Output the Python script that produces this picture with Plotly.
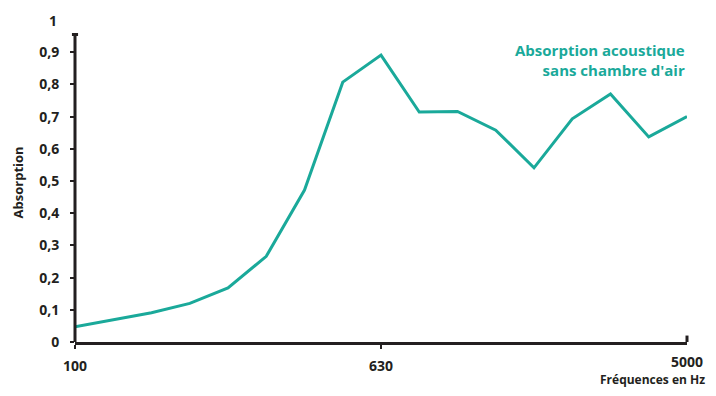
import plotly.graph_objects as go

# Bandes de tiers d'octave (positions sur l'axe) et absorption mesurée
frequences = ["100", "125", "160", "200", "250", "315", "400", "500", "630",
              "800", "1000", "1250", "1600", "2000", "2500", "3150", "5000"]
absorption = [0.047, 0.068, 0.091, 0.12, 0.168, 0.266, 0.472, 0.807, 0.891,
              0.714, 0.716, 0.658, 0.541, 0.693, 0.77, 0.637, 0.70]

y_ticks = [0, 0.1, 0.2, 0.3, 0.4, 0.5, 0.6, 0.7, 0.8, 0.9]
y_labels = ["0", "0,1", "0,2", "0,3", "0,4", "0,5", "0,6", "0,7", "0,8", "0,9"]
x_ticks = ["100", "630"]

teal = "#1aa99a"
dark = "#231f20"
fnt = "Open Sans"

fig = go.Figure()
fig.add_trace(
    go.Scatter(
        x=frequences,
        y=absorption,
        mode="lines",
        line=dict(color=teal, width=3),
        showlegend=False,
        hoverinfo="skip"
    )
)

# la page a une marge de 8 px : figure réduite pour tenir dans la fenêtre
fig.update_layout(
    width=700,
    height=380,
    margin=dict(l=67, r=21, t=12, b=46),
    paper_bgcolor="white",
    plot_bgcolor="white",
    font=dict(family=fnt, size=14, color=dark),
    xaxis=dict(
        type="category",
        range=[0, len(frequences) - 1],
        tickvals=x_ticks,
        ticktext=x_ticks,
        ticks="outside",
        ticklen=4,
        tickwidth=2,
        tickcolor=dark,
        ticklabelstandoff=5,
        showline=True,
        linecolor=dark,
        linewidth=3,
        showgrid=False,
        zeroline=False,
        tickfont=dict(family=fnt, size=14, color=dark, weight="bold")
    ),
    yaxis=dict(
        range=[0, 1],
        tickvals=y_ticks,
        ticktext=y_labels,
        ticks="outside",
        ticklen=4,
        tickwidth=2,
        tickcolor=dark,
        ticklabelstandoff=8,
        showline=False,
        showgrid=False,
        zeroline=False,
        tickfont=dict(family=fnt, size=14, color=dark, weight="bold")
    )
)

# axe vertical qui s'arrête un peu sous 1
fig.add_shape(type="line", xref="paper", yref="y", x0=0, x1=0, y0=0, y1=0.955,
              line=dict(color=dark, width=3))
fig.add_shape(type="line", xref="paper", yref="y", x0=-0.005, x1=0.005, y0=0.955, y1=0.955,
              line=dict(color=dark, width=3))
# petit retour en bout d'axe horizontal
fig.add_shape(type="line", xref="paper", yref="y", x0=1, x1=1, y0=0, y1=0.02,
              line=dict(color=dark, width=3))

fig.add_annotation(
    text="1", xref="paper", yref="y", x=-0.026, y=1,
    xanchor="right", yanchor="middle", showarrow=False,
    font=dict(family=fnt, size=14, color=dark, weight="bold")
)
fig.add_annotation(
    text="5000", xref="paper", yref="paper", x=1, y=-0.062,
    xanchor="center", yanchor="middle", showarrow=False,
    font=dict(family=fnt, size=14, color=dark, weight="bold")
)
fig.add_annotation(
    text="Absorption", textangle=-90,
    xref="paper", yref="paper", x=-0.094, y=0.497,
    xanchor="center", yanchor="middle", showarrow=False,
    font=dict(family=fnt, size=13, color=dark, weight="bold")
)
fig.add_annotation(
    text="Fréquences en Hz",
    xref="paper", yref="paper", x=1.032, y=-0.118,
    xanchor="right", yanchor="middle", showarrow=False,
    font=dict(family=fnt, size=12, color=dark, weight="bold")
)
fig.add_annotation(
    text="Absorption acoustique<br>sans chambre d'air",
    xref="paper", yref="paper", x=1.0, y=0.876,
    xanchor="right", yanchor="middle", align="right", showarrow=False,
    font=dict(family=fnt, size=15, color=teal, weight="bold")
)

fig.write_html("out.html")
